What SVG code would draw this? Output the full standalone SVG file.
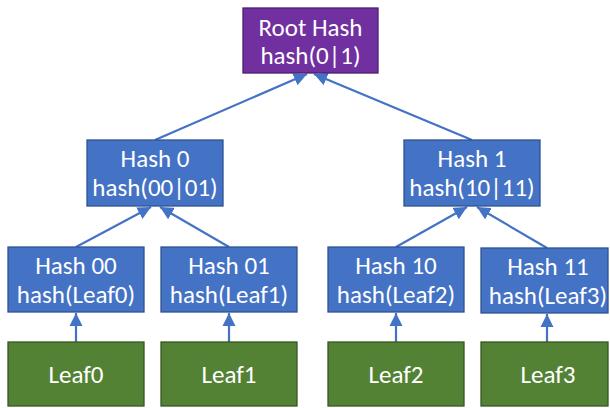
<svg xmlns="http://www.w3.org/2000/svg" width="610" height="408" viewBox="0 0 610 408">
<defs>
<marker id="ah" viewBox="0 0 10 10" refX="10" refY="5" markerWidth="6" markerHeight="6" orient="auto" markerUnits="strokeWidth">
<path d="M0,0 L10,5 L0,10 z" fill="#4472C4"/>
</marker>
<style>
.hash rect{fill:#4472C4;stroke:#2F528F;stroke-width:1.3}
.root rect{fill:#7030A0;stroke:#4B2070;stroke-width:1.3}
.leaf rect{fill:#548235;stroke:#385723;stroke-width:1.3}
text{font-family:Carlito,Lato,"Liberation Sans",sans-serif;font-size:25px;fill:#fff;text-anchor:middle}
.conn line{stroke:#4472C4;stroke-width:2.2;marker-end:url(#ah)}
</style>
</defs>
<rect width="610" height="408" fill="#fff"/>
<g class="conn" id="connectors">
<line x1="155" y1="140" x2="307" y2="74"/>
<line x1="472" y1="140" x2="314" y2="74"/>
<line x1="76" y1="247" x2="151" y2="207"/>
<line x1="229" y1="247" x2="160" y2="207"/>
<line x1="396" y1="247" x2="467" y2="207"/>
<line x1="547" y1="248" x2="477" y2="207"/>
<line x1="76" y1="342" x2="76" y2="313"/>
<line x1="229" y1="342" x2="229" y2="313"/>
<line x1="396" y1="342" x2="396" y2="313"/>
<line x1="547" y1="342" x2="547" y2="314"/>
</g>
<g class="root" id="root"><rect x="243" y="8" width="135" height="65"/><text x="310.5" y="36">Root Hash</text><text x="310.5" y="64">hash(0|1)</text></g>
<g class="hash" id="hash0"><rect x="87" y="140" width="136" height="66"/><text x="155" y="167">Hash 0</text><text x="155" y="196">hash(00|01)</text></g>
<g class="hash" id="hash1"><rect x="404" y="140" width="136" height="66"/><text x="472" y="167">Hash 1</text><text x="472" y="196">hash(10|11)</text></g>
<g class="hash" id="hash00"><rect x="8" y="247" width="136" height="65"/><text x="76" y="274">Hash 00</text><text x="76" y="303">hash(Leaf0)</text></g>
<g class="hash" id="hash01"><rect x="161" y="247" width="136" height="65"/><text x="229" y="274">Hash 01</text><text x="229" y="303">hash(Leaf1)</text></g>
<g class="hash" id="hash10"><rect x="328" y="247" width="136" height="65"/><text x="396" y="274">Hash 10</text><text x="396" y="303">hash(Leaf2)</text></g>
<g class="hash" id="hash11"><rect x="481" y="248" width="127" height="65"/><text x="548" y="275">Hash 11</text><text x="548" y="304">hash(Leaf3)</text></g>
<g class="leaf" id="leaf0"><rect x="8" y="342" width="136" height="64"/><text x="76" y="383">Leaf0</text></g>
<g class="leaf" id="leaf1"><rect x="161" y="342" width="136" height="64"/><text x="229" y="383">Leaf1</text></g>
<g class="leaf" id="leaf2"><rect x="328" y="342" width="136" height="64"/><text x="396" y="383">Leaf2</text></g>
<g class="leaf" id="leaf3"><rect x="481" y="342" width="127" height="64"/><text x="548" y="383">Leaf3</text></g>
</svg>
